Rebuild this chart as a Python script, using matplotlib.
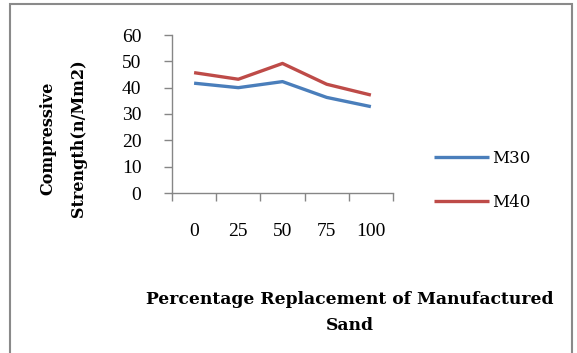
import matplotlib
matplotlib.use("Agg")
import matplotlib.pyplot as plt
from matplotlib.patches import Rectangle

categories = ["0", "25", "50", "75", "100"]
m30 = [41.7, 40.0, 42.3, 36.3, 32.8]
m40 = [45.7, 43.2, 49.2, 41.3, 37.2]
yticks = [0, 10, 20, 30, 40, 50, 60]

W, H = 577, 353
fig = plt.figure(figsize=(W / 100, H / 100), dpi=100)
fig.patch.set_facecolor("white")

# outer frame
fig.add_artist(Rectangle((10 / W, -0.05), (572 - 10) / W, 1.05 - 4 / H,
                         transform=fig.transFigure, fill=False,
                         edgecolor="#8a8a8a", linewidth=1.5, clip_on=False))

ax = fig.add_axes([172 / W, 1 - 193 / H, (393 - 172) / W, (193 - 35) / H])
x = list(range(len(categories)))
l1, = ax.plot(x, m30, color="#4a7ebb", linewidth=2.4, label="M30",
              solid_joinstyle="round", solid_capstyle="butt")
l2, = ax.plot(x, m40, color="#be4b48", linewidth=2.4, label="M40",
              solid_joinstyle="round", solid_capstyle="butt")

ax.set_xlim(-0.5, len(categories) - 0.5)
ax.set_ylim(0, 60)
ax.set_yticks(yticks)
ax.set_yticklabels([str(v) for v in yticks])
ax.set_xticks(x)
ax.set_xticklabels(categories)
ax.set_xticks([i - 0.5 for i in range(len(categories) + 1)], minor=True)

for s in ["top", "right"]:
    ax.spines[s].set_visible(False)
for s in ["left", "bottom"]:
    ax.spines[s].set_color("#868686")
    ax.spines[s].set_linewidth(1.0)

ax.tick_params(axis="y", length=6, width=1, color="#868686", pad=16,
               labelsize=14)
ax.tick_params(axis="x", which="major", length=0, pad=21.5, labelsize=14)
ax.tick_params(axis="x", which="minor", length=6, width=1, color="#868686")
for lab in ax.get_xticklabels() + ax.get_yticklabels():
    lab.set_fontfamily("Liberation Serif")

# axis titles
fig.text(48 / W, 1 - 138 / H, "Compressive", rotation=90, ha="center",
         va="center", fontsize=11.5, fontweight="bold", family="DejaVu Serif")
fig.text(78 / W, 1 - 138 / H, "Strength(n/Mm2)", rotation=90, ha="center",
         va="center", fontsize=11.5, fontweight="bold", family="DejaVu Serif")
fig.text(350 / W, 1 - 300 / H, "Percentage Replacement of Manufactured",
         ha="center", va="center", fontsize=12.3, fontweight="bold",
         family="DejaVu Serif")
fig.text(350 / W, 1 - 326 / H, "Sand", ha="center", va="center",
         fontsize=12.3, fontweight="bold", family="DejaVu Serif")

leg = fig.legend(handles=[l1, l2], loc="upper left",
                 bbox_to_anchor=(434 / W, 1 - 150 / H), frameon=False,
                 prop=dict(family="DejaVu Serif", size=12),
                 handlelength=3.3, handletextpad=0.2, labelspacing=1.6,
                 borderaxespad=0, borderpad=0)

fig.savefig("out.png", dpi=100, facecolor="white")
